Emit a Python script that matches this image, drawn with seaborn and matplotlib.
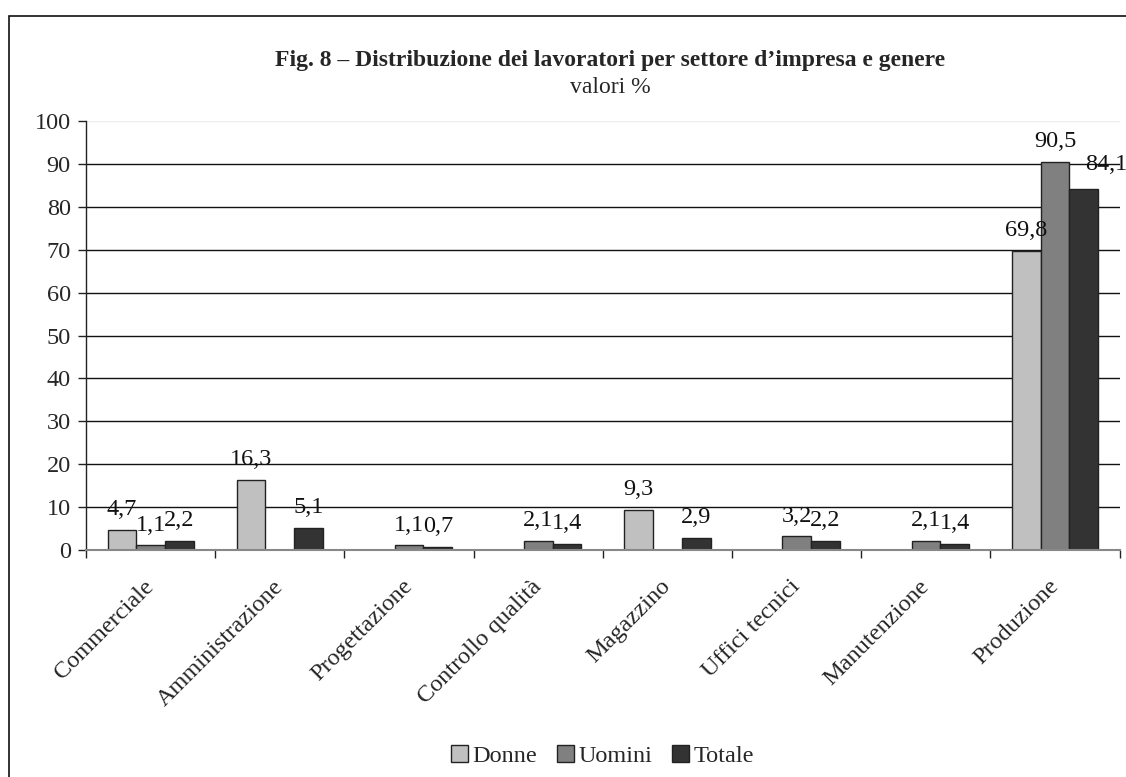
import matplotlib
matplotlib.use("Agg")
import matplotlib.pyplot as plt
from matplotlib.patches import Rectangle
import numpy as np
import pandas as pd
import seaborn as sns

categories = ["Commerciale", "Amministrazione", "Progettazione", "Controllo qualità",
              "Magazzino", "Uffici tecnici", "Manutenzione", "Produzione"]
donne = [4.7, 16.3, np.nan, np.nan, 9.3, np.nan, np.nan, 69.8]
uomini = [1.1, np.nan, 1.1, 2.1, np.nan, 3.2, 2.1, 90.5]
totale = [2.2, 5.1, 0.7, 1.4, 2.9, 2.2, 1.4, 84.1]
series = ["Donne", "Uomini", "Totale"]
colors = ["#C0C0C0", "#808080", "#333333"]
yticks = list(range(0, 101, 10))

df = pd.DataFrame({"Settore": categories, "Donne": donne, "Uomini": uomini, "Totale": totale})
long = df.melt(id_vars="Settore", var_name="Genere", value_name="Valore")

sns.set_theme(style="white")
plt.rcParams["font.family"] = ["Liberation Serif", "DejaVu Serif"]

FS = 17.5

fig = plt.figure(figsize=(11.26, 7.77), dpi=100)
ax = fig.add_axes([0.0764, 0.2921, 0.918, 0.552])

sns.barplot(data=long, x="Settore", y="Valore", hue="Genere", hue_order=series,
            order=categories, palette=colors, width=0.667, edgecolor="#222222",
            linewidth=1.0, ax=ax, legend=True)

# value labels in Italian decimal format
all_labels = []
for cont in ax.containers:
    labels = []
    for bar in cont:
        h = bar.get_height()
        labels.append("" if (h is None or np.isnan(h) or h == 0) else f"{h:.1f}".replace(".", ","))
    all_labels.append(ax.bar_label(cont, labels=labels, padding=7, fontsize=FS, color="#111111"))

# the Produzione total label sits a little to the right of its bar
last = all_labels[-1][-1]
last.xyann = (last.xyann[0] + 16, last.xyann[1] + 3)

ax.set_ylim(0, 100)
ax.set_xlim(-0.5, len(categories) - 0.5)
ax.set_yticks(yticks)
ax.set_yticklabels([str(t) for t in yticks], fontsize=FS)
for t in yticks[1:-1]:
    ax.axhline(t, color="#111111", linewidth=1.0, zorder=0)
ax.axhline(100, color="#eeeeee", linewidth=1.0, zorder=0)

ax.set_xticks(range(len(categories)))
ax.set_xticklabels(categories, rotation=45, ha="right", va="center",
                   rotation_mode="anchor", fontsize=FS)
ax.set_xticks(np.arange(-0.5, len(categories), 1.0), minor=True)
ax.tick_params(axis="x", which="major", length=0, pad=24)
ax.tick_params(axis="x", which="minor", length=6, width=1, color="#222222", direction="out", bottom=True)
ax.tick_params(axis="y", length=6, width=1, color="#222222", direction="out", left=True, pad=5)
ax.set_xlabel("")
ax.set_ylabel("")

for s in ["top", "right"]:
    ax.spines[s].set_visible(False)
ax.spines["left"].set_color("#222222")
ax.spines["left"].set_linewidth(1.0)
ax.spines["bottom"].set_color("#888888")
ax.spines["bottom"].set_linewidth(1.5)

leg = ax.get_legend()
handles, lbls = ax.get_legend_handles_labels()
leg.remove()
fig.legend(handles, lbls, loc="center", bbox_to_anchor=(0.535, 0.027), ncol=3, frameon=False,
           fontsize=FS, handlelength=0.7, handleheight=0.7, handletextpad=0.2, columnspacing=0.8,
           borderpad=0.1)

fig.text(0.542, 0.922, "Fig. 8 – Distribuzione dei lavoratori per settore d’impresa e genere",
         ha="center", va="center", fontsize=17, fontweight="bold")
fig.text(0.542, 0.888, "valori %", ha="center", va="center", fontsize=17)

fig.patches.append(Rectangle((9 / 1126, -0.02), 1.2, 1 - 16 / 777 + 0.02,
                             transform=fig.transFigure, fill=False, edgecolor="#111111",
                             linewidth=1.2, zorder=10))

fig.savefig("out.png", dpi=100)
